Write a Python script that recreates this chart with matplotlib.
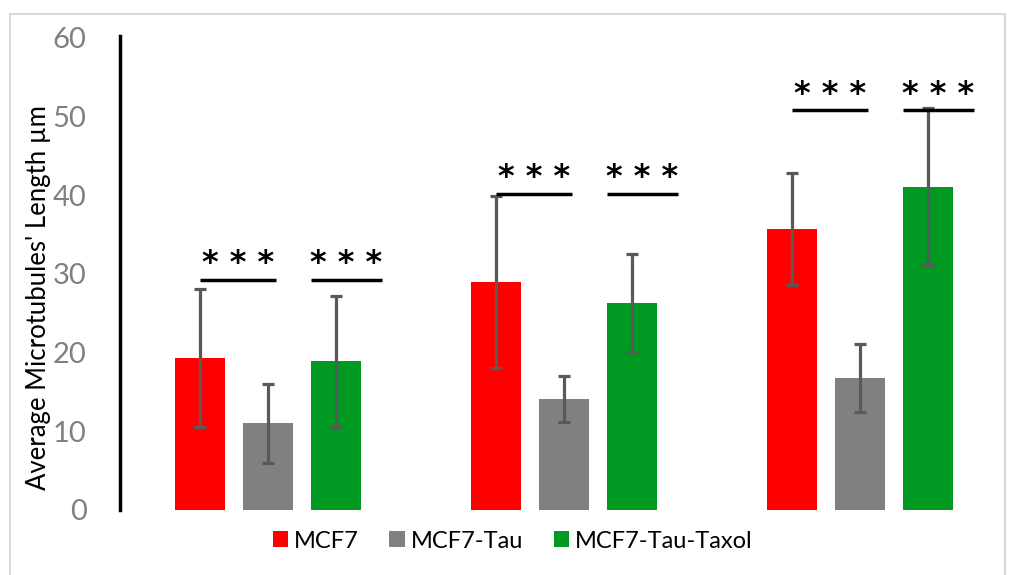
import matplotlib.pyplot as plt
import numpy as np
from matplotlib.patches import Rectangle

plt.rcParams['font.family'] = ['Lato', 'DejaVu Sans']

# values
series_names = ["MCF7", "MCF7-Tau", "MCF7-Tau-Taxol"]
mcf7 = [19.3, 29.0, 35.7]
mcf7_err = [8.8, 10.9, 7.1]
tau = [11.0, 14.1, 16.8]
tau_err = [5.0, 2.9, 4.3]
taxol = [18.9, 26.3, 41.1]
taxol_err = [8.3, 6.2, 10.0]
sig_height = [29.3, 40.2, 50.8]
sig_label = "* * *"

colors = ["#FF0000", "#808080", "#009922"]
err_color = "#595959"

fig = plt.figure(figsize=(10.15, 5.75), dpi=100)
ax = fig.add_axes([120 / 1015, 65 / 575, 888 / 1015, 472 / 575])

# light frame round the whole chart, as in the original
fig.patches.append(Rectangle((10 / 1015, -0.01), 995 / 1015, 1 - 14 / 575 + 0.01,
                             transform=fig.transFigure, fill=False,
                             edgecolor="#D9D9D9", linewidth=1.5))

x = np.arange(3)
width = 0.17
offset = 0.23
values = [mcf7, tau, taxol]
errors = [mcf7_err, tau_err, taxol_err]

for i, (vals, errs) in enumerate(zip(values, errors)):
    ax.bar(x + (i - 1) * offset, vals, width, color=colors[i], label=series_names[i],
           yerr=errs, error_kw=dict(ecolor=err_color, elinewidth=2.3, capsize=4.5, capthick=2.3))

# significance bars
for g in range(3):
    h = sig_height[g]
    spans = [(x[g] - offset, x[g] + 0.027), (x[g] + offset - width / 2, x[g] + 0.385)]
    for a, b in spans:
        ax.plot([a, b], [h, h], color="black", linewidth=2.5, solid_capstyle="butt")
        ax.text((a + b) / 2, h + 0.1, sig_label, ha="center", va="bottom",
                fontsize=23, fontweight="bold", color="black", family="DejaVu Sans")

ax.set_xlim(-0.5, 2.5)
ax.set_ylim(0, 60)
ax.set_yticks(range(0, 61, 10))
ax.set_xticks([])
ax.tick_params(axis="y", length=0, pad=24, labelsize=21, labelcolor="#808080")
for s in ["top", "right", "bottom"]:
    ax.spines[s].set_visible(False)
ax.spines["left"].set_linewidth(2.5)
ax.spines["left"].set_bounds(0, 60.3)
ax.set_ylabel("Average Microtubules' Length µm", fontsize=18.5, va="center")
ax.yaxis.set_label_coords((39 - 120) / 888, (510 - 298) / 472)

fig.legend(loc="center", bbox_to_anchor=(0.505, 1 - 541 / 575), ncol=3, frameon=False,
           fontsize=17, handlelength=0.65, handleheight=0.65, handletextpad=0.25,
           columnspacing=1.3)

fig.savefig("out.png", dpi=100)
